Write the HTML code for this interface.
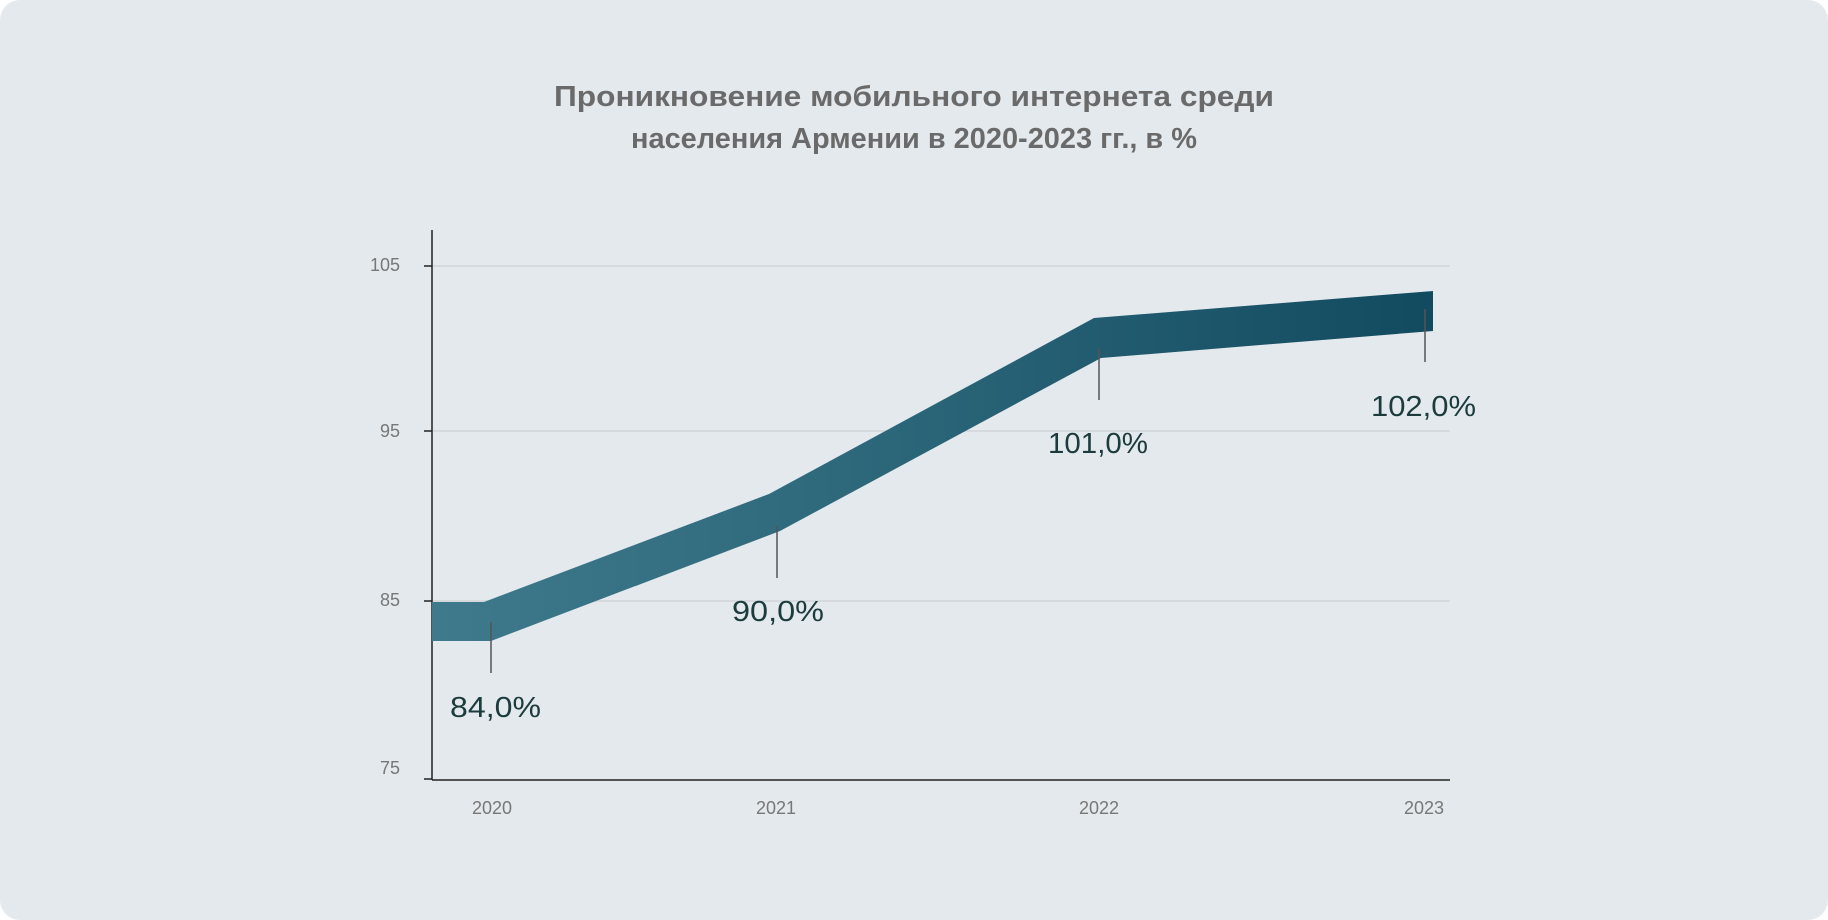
<!DOCTYPE html>
<html><head><meta charset="utf-8"><style>
html,body{margin:0;padding:0;background:#fff;}
</style></head><body>
<svg width="1828" height="920" viewBox="0 0 1828 920" xmlns="http://www.w3.org/2000/svg" style="display:block">
<defs>
<linearGradient id="g" x1="432" y1="0" x2="1433" y2="0" gradientUnits="userSpaceOnUse">
<stop offset="0" stop-color="#3f7a8c"/><stop offset="0.5" stop-color="#2a6477"/><stop offset="1" stop-color="#124a60"/>
</linearGradient>
</defs>
<rect x="0" y="0" width="1828" height="920" rx="20" fill="#e4e9ed"/>
<g font-family="Liberation Sans, sans-serif" font-size="29" fill="#6a6a6a" text-anchor="middle" font-weight="bold">
<text x="914" y="106" textLength="720" lengthAdjust="spacingAndGlyphs">Проникновение мобильного интернета среди</text>
<text x="914" y="148" textLength="566" lengthAdjust="spacingAndGlyphs">населения Армении в 2020-2023 гг., в %</text>
</g>
<g stroke="#d2d6da" stroke-width="1.5">
<line x1="432" y1="266" x2="1450" y2="266"/>
<line x1="432" y1="431" x2="1450" y2="431"/>
<line x1="432" y1="601" x2="1450" y2="601"/>
</g>
<g stroke="#222" stroke-width="1.5">
<line x1="432" y1="230" x2="432" y2="780"/>
<line x1="432" y1="780" x2="1450" y2="780"/>
<line x1="424" y1="266" x2="432" y2="266"/>
<line x1="424" y1="431" x2="432" y2="431"/>
<line x1="424" y1="601" x2="432" y2="601"/>
<line x1="424" y1="779" x2="432" y2="779"/>
</g>
<polygon fill="url(#g)" points="432,602 484,602 769,494 1094,318 1433,291 1433,331 1101,358 780,531 491,641 432,641"/>
<g stroke="#555" stroke-width="1.5">
<line x1="491" y1="622" x2="491" y2="673"/>
<line x1="777" y1="526" x2="777" y2="578"/>
<line x1="1099" y1="348" x2="1099" y2="400"/>
<line x1="1425" y1="309" x2="1425" y2="362"/>
</g>
<g font-family="Liberation Sans, sans-serif" font-size="29" fill="#1c3b3d">
<text x="450" y="717" textLength="91" lengthAdjust="spacingAndGlyphs">84,0%</text>
<text x="732" y="621" textLength="92" lengthAdjust="spacingAndGlyphs">90,0%</text>
<text x="1048" y="453" textLength="100" lengthAdjust="spacingAndGlyphs">101,0%</text>
<text x="1371" y="416" textLength="105" lengthAdjust="spacingAndGlyphs">102,0%</text>
</g>
<g font-family="Liberation Sans, sans-serif" font-size="18" fill="#777" text-anchor="end">
<text x="400" y="271">105</text>
<text x="400" y="437">95</text>
<text x="400" y="606">85</text>
<text x="400" y="774">75</text>
</g>
<g font-family="Liberation Sans, sans-serif" font-size="18" fill="#777" text-anchor="middle">
<text x="492" y="814">2020</text>
<text x="776" y="814">2021</text>
<text x="1099" y="814">2022</text>
<text x="1424" y="814">2023</text>
</g>
</svg>
</body></html>
